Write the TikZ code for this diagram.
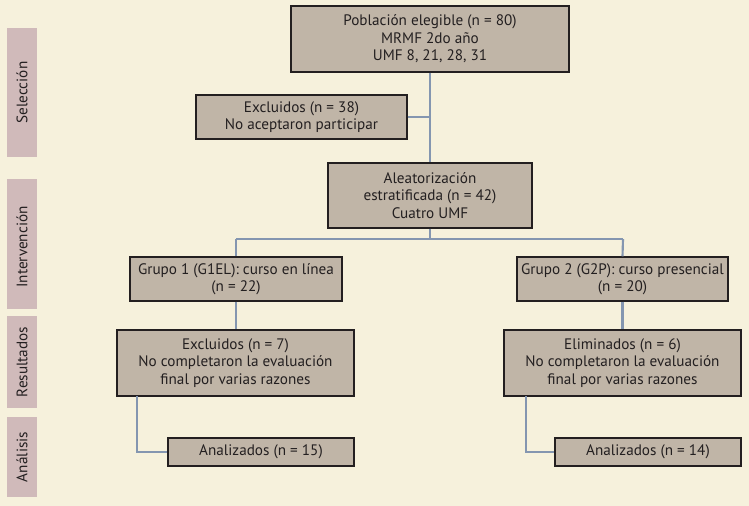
\documentclass[tikz,border=0pt]{standalone}
\usepackage{fontspec}
\setmainfont{PT Sans}
\definecolor{bgc}{HTML}{F6F1DC}
\definecolor{boxc}{HTML}{C0B5A7}
\definecolor{sidec}{HTML}{D0BABA}
\definecolor{linec}{HTML}{8496B0}
\definecolor{txtc}{HTML}{231F20}
\begin{document}
\begin{tikzpicture}[x=0.75pt,y=-0.75pt,
  bx/.style={draw=txtc,line width=1.1pt,fill=boxc,inner sep=0pt,align=center,
    font=\fontsize{11.4pt}{13.1pt}\selectfont,text=txtc},
  side/.style={fill=sidec,inner sep=0pt},
  sidetxt/.style={rotate=90,font=\fontsize{11.4pt}{12pt}\selectfont,text=txtc},
  conn/.style={draw=linec,line width=1.6pt}]
\fill[bgc] (0,0) rectangle (749,506);
\useasboundingbox (0,0) rectangle (749,506);
% side bands
\fill[side] (7,28) rectangle (37,157);
\fill[side] (7,179) rectangle (37,309);
\fill[side] (7,316) rectangle (37,408);
\fill[side] (7,417) rectangle (37,497);
\node[sidetxt] (s1) at (22,92.5) {Selección};
\node[sidetxt] (s2) at (22,247) {Intervención};
\node[sidetxt] (s3) at (22,362) {Resultados};
\node[sidetxt] (s4) at (22,457) {Análisis};
% boxes
\node[bx,minimum width=208.5pt,minimum height=49.5pt] (pob) at (430,39) {Población elegible (n = 80)\\MRMF 2do año\\UMF 8, 21, 28, 31};
\node[bx,minimum width=158.25pt,minimum height=33pt] (exc) at (301.5,117) {Excluidos (n = 38)\\No aceptaron participar};
\node[bx,minimum width=153pt,minimum height=48.75pt] (ale) at (430,195.5) {Aleatorización\\estratificada (n = 42)\\Cuatro UMF};
\node[bx,minimum width=159pt,minimum height=33pt] (g1) at (236,279) {Grupo 1 (G1EL): curso en línea\\(n = 22)};
\node[bx,minimum width=158.25pt,minimum height=33pt] (g2) at (622.5,279) {Grupo 2 (G2P): curso presencial\\(n = 20)};
\node[bx,minimum width=177.75pt,minimum height=49.5pt] (e7) at (235.5,363) {Excluidos (n = 7)\\No completaron la evaluación\\final por varias razones};
\node[bx,minimum width=177.75pt,minimum height=49.5pt] (e6) at (622.5,363) {Eliminados (n = 6)\\No completaron la evaluación\\final por varias razones};
\node[bx,minimum width=139.5pt,minimum height=21pt] (a15) at (261,452) {Analizados (n = 15)};
\node[bx,minimum width=139.5pt,minimum height=21pt] (a14) at (648,452) {Analizados (n = 14)};
% connectors
\coordinate (j1) at (430,117);
\coordinate (j2) at (430,239);
\coordinate (jl) at (236,239);
\coordinate (jr) at (623,239);
\coordinate (d7) at (137,396);
\coordinate (d6) at (526,396);
\draw[conn] (pob.south) -- (ale.north);
\draw[conn] (exc.east) -- (j1);
\draw[conn] (ale.south) -- (j2);
\draw[conn] (jl) -- (jr);
\draw[conn] (jl) -- (g1.north);
\draw[conn] (jr) -- (g2.north);
\draw[conn] (g1.south) -- (e7.north -| g1.south);
\draw[conn] (g2.south) -- (e6.north -| g2.south);
\draw[conn] (d7) |- (a15.west);
\draw[conn] (d6) |- (a14.west);
\end{tikzpicture}
\end{document}
